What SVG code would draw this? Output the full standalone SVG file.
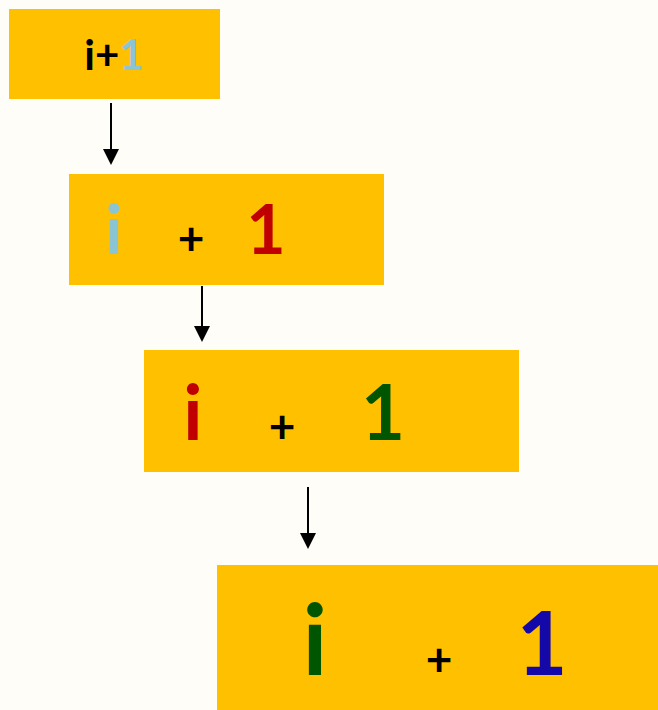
<svg xmlns="http://www.w3.org/2000/svg" width="658" height="710" viewBox="0 0 658 710">
<defs>
<style>
.box{fill:#FFC000}
.t{font-family:Lato,"Open Sans","Liberation Sans",sans-serif;font-weight:bold;text-anchor:middle}
.c{stroke:#000;stroke-width:2;fill:none}
</style>
<marker id="ah" viewBox="0 0 16 16" refX="14" refY="8" markerWidth="16" markerHeight="16" markerUnits="userSpaceOnUse" orient="auto">
<path d="M0,0 L16,8 L0,16 z" fill="#000"/>
</marker>
</defs>
<rect width="658" height="710" fill="#FFFDF7"/>
<g id="n1">
<rect class="box" x="9" y="9" width="211" height="90"/>
<text class="t" x="114" y="70" font-size="42"><tspan fill="#000">i+</tspan><tspan fill="#8BC4D3">1</tspan></text>
</g>
<g id="n2">
<rect class="box" x="69" y="174" width="315" height="111"/>
<text class="t" x="114" y="254" font-size="68" fill="#8BC4D3">i</text>
<text class="t" x="191" y="255" font-size="46" fill="#000">+</text>
<text class="t" x="266" y="254" font-size="68" fill="#C00000">1</text>
</g>
<g id="n3">
<rect class="box" x="144" y="350" width="375" height="122"/>
<text class="t" x="193" y="440" font-size="76" fill="#C00000">i</text>
<text class="t" x="282" y="443" font-size="46" fill="#000">+</text>
<text class="t" x="383" y="440" font-size="76" fill="#005500">1</text>
</g>
<g id="n4">
<rect class="box" x="217" y="565" width="441" height="145"/>
<text class="t" x="315" y="675" font-size="98" fill="#005500">i</text>
<text class="t" x="439" y="676" font-size="46" fill="#000">+</text>
<text class="t" x="542" y="675" font-size="88" fill="#1508A8">1</text>
</g>
<g id="connectors">
<line class="c" x1="111" y1="103" x2="111" y2="163" marker-end="url(#ah)"/>
<line class="c" x1="202" y1="286" x2="202" y2="340" marker-end="url(#ah)"/>
<line class="c" x1="308" y1="487" x2="308" y2="547" marker-end="url(#ah)"/>
</g>
</svg>
